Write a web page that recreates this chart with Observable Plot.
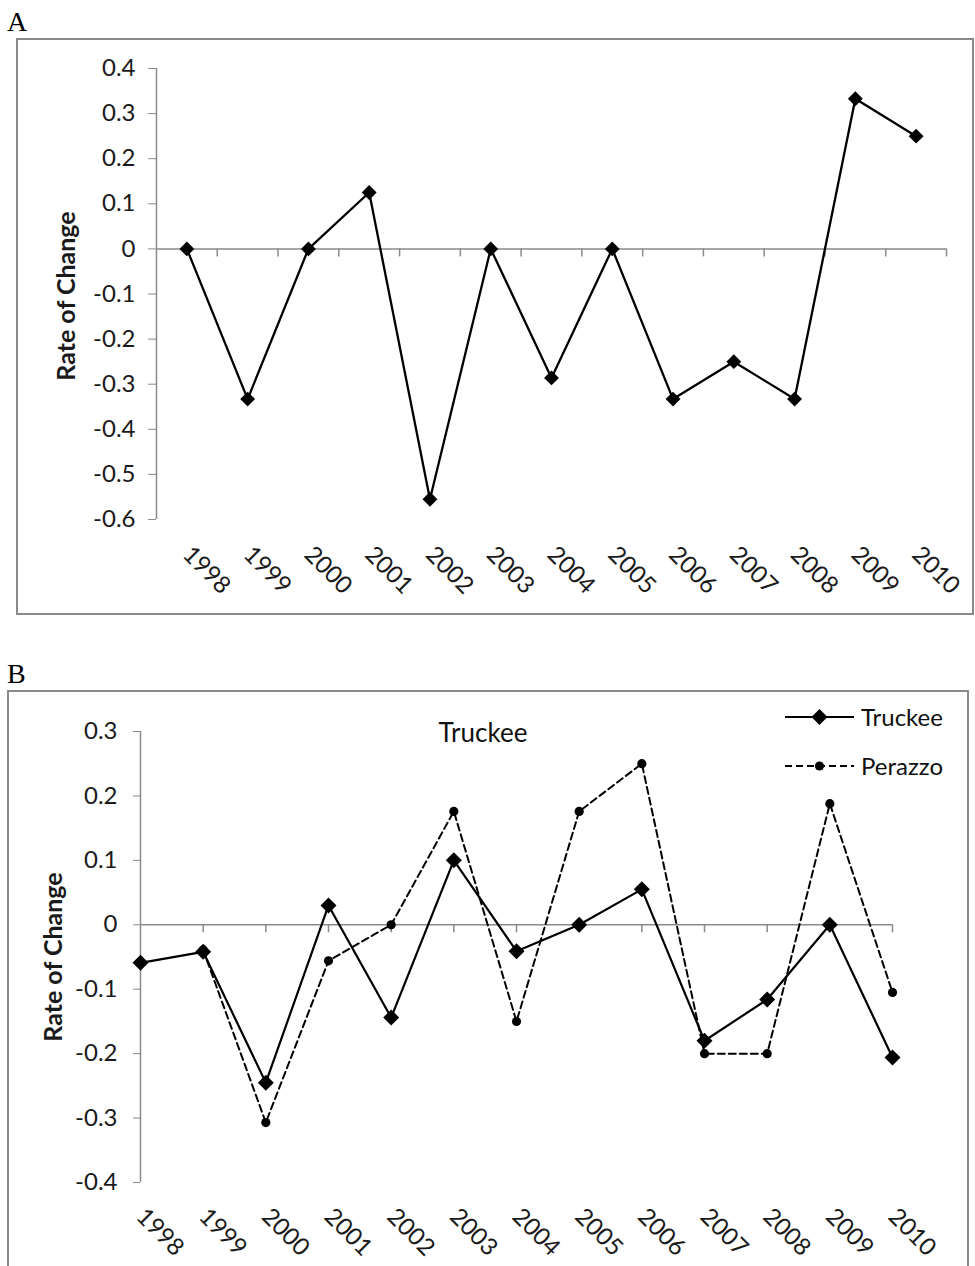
<!DOCTYPE html>
<html>
<head>
<meta charset="utf-8">
<script src="https://cdn.jsdelivr.net/npm/d3@7"></script>
<script src="https://cdn.jsdelivr.net/npm/@observablehq/plot@0.6"></script>
<style>
  html, body { margin: 0; padding: 0; background: #fff; }
  #page { position: relative; width: 975px; height: 1266px; overflow: hidden; font-family: Lato, "Open Sans", sans-serif; }
  .abs { position: absolute; }
  .chart text { fill: #1a1a1a; }
  .box { position: absolute; border: 2px solid #8a8a8a; box-sizing: border-box; background: transparent; z-index: 5; pointer-events: none; }
  .panel-letter { position: absolute; font-family: "Liberation Serif", "DejaVu Serif", serif; font-size: 28px; line-height: 1; color: #000; }
  .title { position: absolute; font-size: 26px; color: #111; line-height: 1; transform: translate(-50%, -50%); white-space: nowrap; }
  .legend-item { position: absolute; display: flex; align-items: center; font-size: 24px; color: #111; line-height: 1; }
  .legend-item svg { margin-right: 7px; }
</style>
</head>
<body>
<div id="page">
  <div class="panel-letter" style="left:7px; top:8px;">A</div>
  <div class="box" style="left:16px; top:38px; width:958px; height:577px;"></div>
  <div class="panel-letter" style="left:7px; top:660px;">B</div>
  <div class="box" style="left:7px; top:690px; width:962px; height:600px;"></div>
  <div id="chartA" class="abs" style="left:0; top:0;"></div>
  <div id="chartB" class="abs" style="left:0; top:640px;"></div>
  <div class="title" style="left:483px; top:732px;">Truckee</div>
  <div id="legend"></div>
</div>
<script>
// ---- data ----
const years = [1998, 1999, 2000, 2001, 2002, 2003, 2004, 2005, 2006, 2007, 2008, 2009, 2010];
const rateA = [0, -0.333, 0, 0.125, -0.555, 0, -0.286, 0, -0.333, -0.25, -0.333, 0.333, 0.25];
const truckee = [-0.059, -0.042, -0.245, 0.03, -0.144, 0.1, -0.041, 0, 0.055, -0.18, -0.116, 0, -0.206];
const perazzo = [null, -0.039, -0.307, -0.056, 0, 0.176, -0.15, 0.176, 0.25, -0.2, -0.2, 0.188, -0.105];
const yTicksA = [0.4, 0.3, 0.2, 0.1, 0, -0.1, -0.2, -0.3, -0.4, -0.5, -0.6];
const yTicksB = [0.3, 0.2, 0.1, 0, -0.1, -0.2, -0.3, -0.4];
const seriesNames = ["Truckee", "Perazzo"];
const yLabel = "Rate of Change";

const fmt = d => (d === 0 ? "0" : String(d));
const dataA = years.map((year, i) => ({year, value: rateA[i]}));
const dataT = years.map((year, i) => ({year, value: truckee[i]}));
const dataP = years.map((year, i) => ({year, value: perazzo[i]})).filter(d => d.value !== null);

const style = {background: "transparent", fontFamily: "Lato, 'Open Sans', sans-serif", fontSize: "24px", color: "#8a8a8a", overflow: "visible"};
const gray = "#8a8a8a";
const TICK_FONT = 24;

function yAxis(ticks, tickSize, tickPadding) {
  return Plot.axisY
    ? [Plot.axisY(ticks, {tickSize, tickPadding, tickFormat: fmt, fontSize: TICK_FONT, stroke: gray, label: null})]
    : [];
}

// ---- Panel A ----
const A = {w: 975, h: 620, mt: 68, mb: 101, ml: 156, mr: 29, domY: [-0.6, 0.4], domX: [years[0] - 0.5, years[years.length - 1] + 0.5]};
const tickA = 8 * (A.domY[1] - A.domY[0]) / (A.h - A.mt - A.mb);
const chartA = Plot.plot({
  width: A.w, height: A.h, marginTop: A.mt, marginBottom: A.mb, marginLeft: A.ml, marginRight: A.mr,
  className: "chart", style,
  x: {domain: A.domX, axis: null},
  y: {domain: A.domY, ticks: yTicksA, tickFormat: fmt, tickSize: 8, tickPadding: 13, line: true, label: null},
  marks: [
    ...yAxis(yTicksA, 8, 13),
    Plot.ruleX([A.domX[0]], {stroke: gray, strokeWidth: 1.5}),
    Plot.ruleY([0], {stroke: gray, strokeWidth: 1.5}),
    Plot.ruleX(years.map(y => y + 0.5), {y1: 0, y2: -tickA, stroke: gray, strokeWidth: 1.5}),
    Plot.line(dataA, {x: "year", y: "value", stroke: "#000", strokeWidth: 2.3}),
    Plot.dot(dataA, {x: "year", y: "value", symbol: "diamond2", r: 6.7, fill: "#000", stroke: null}),
    Plot.text(years, {x: d => d, text: d => String(d), frameAnchor: "bottom", rotate: 45, textAnchor: "start", lineAnchor: "middle", dx: 0, dy: 31, fontSize: 24, fill: "#1a1a1a"}),
    Plot.text([yLabel], {frameAnchor: "left", textAnchor: "middle", lineAnchor: "middle", rotate: -90, dx: -90, dy: 2, fontWeight: "bold", fontSize: 25, fill: "#1a1a1a"})
  ]
});
document.getElementById("chartA").appendChild(chartA);

// ---- Panel B ----
const B = {w: 975, h: 626, mt: 91, mb: 84, ml: 140, mr: 83, domY: [-0.4, 0.3], domX: [years[0], years[years.length - 1]]};
const tickB = 8 * (B.domY[1] - B.domY[0]) / (B.h - B.mt - B.mb);
const chartB = Plot.plot({
  width: B.w, height: B.h, marginTop: B.mt, marginBottom: B.mb, marginLeft: B.ml, marginRight: B.mr,
  className: "chart", style,
  x: {domain: B.domX, axis: null},
  y: {domain: B.domY, ticks: yTicksB, tickFormat: fmt, tickSize: 7, tickPadding: 16, line: true, label: null},
  marks: [
    ...yAxis(yTicksB, 7, 16),
    Plot.ruleX([B.domX[0]], {stroke: gray, strokeWidth: 1.5}),
    Plot.ruleY([0], {stroke: gray, strokeWidth: 1.5}),
    Plot.ruleX(years.slice(1), {y1: 0, y2: -tickB, stroke: gray, strokeWidth: 1.5}),
    Plot.line(dataP, {x: "year", y: "value", stroke: "#000", strokeWidth: 2, strokeDasharray: "7,4"}),
    Plot.dot(dataP, {x: "year", y: "value", r: 4.6, fill: "#000", stroke: null}),
    Plot.line(dataT, {x: "year", y: "value", stroke: "#000", strokeWidth: 2.2}),
    Plot.dot(dataT, {x: "year", y: "value", symbol: "diamond2", r: 7.2, fill: "#000", stroke: null}),
    Plot.text(years, {x: d => d, text: d => String(d), frameAnchor: "bottom", rotate: 45, textAnchor: "start", lineAnchor: "middle", dx: 0, dy: 30, fontSize: 24, fill: "#1a1a1a"}),
    Plot.text([yLabel], {frameAnchor: "left", textAnchor: "middle", lineAnchor: "middle", rotate: -90, dx: -87, fontWeight: "bold", fontSize: 25, fill: "#1a1a1a"})
  ]
});
document.getElementById("chartB").appendChild(chartB);

// ---- Legend ----
const legend = document.getElementById("legend");
const legendSpec = [
  {name: seriesNames[0], top: 717, dash: null, symbol: "diamond"},
  {name: seriesNames[1], top: 766, dash: "7,4", symbol: "circle"}
];
legendSpec.forEach(s => {
  const item = document.createElement("div");
  item.className = "legend-item";
  item.style.left = "785px";
  item.style.top = (s.top - 14) + "px";
  item.style.height = "28px";
  const ns = "http://www.w3.org/2000/svg";
  const svg = document.createElementNS(ns, "svg");
  svg.setAttribute("width", "69"); svg.setAttribute("height", "20");
  const line = document.createElementNS(ns, "line");
  line.setAttribute("x1", "0"); line.setAttribute("x2", "69");
  line.setAttribute("y1", "10"); line.setAttribute("y2", "10");
  line.setAttribute("stroke", "#000"); line.setAttribute("stroke-width", "2.2");
  if (s.dash) line.setAttribute("stroke-dasharray", s.dash);
  svg.appendChild(line);
  if (s.symbol === "diamond") {
    const p = document.createElementNS(ns, "path");
    p.setAttribute("d", "M34.5,2 L42.5,10 L34.5,18 L26.5,10 Z");
    p.setAttribute("fill", "#000");
    svg.appendChild(p);
  } else {
    const c = document.createElementNS(ns, "circle");
    c.setAttribute("cx", "34.5"); c.setAttribute("cy", "10"); c.setAttribute("r", "4.6");
    c.setAttribute("fill", "#000");
    svg.appendChild(c);
  }
  item.appendChild(svg);
  const t = document.createElement("span");
  t.textContent = s.name;
  item.appendChild(t);
  legend.appendChild(item);
});
</script>
</body>
</html>
